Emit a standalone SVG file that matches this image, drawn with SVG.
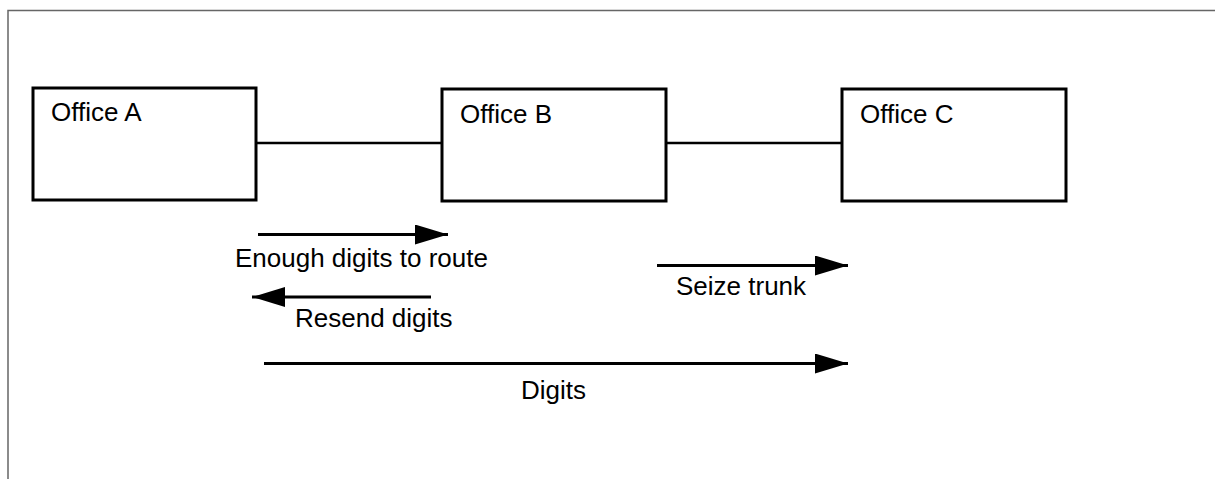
<svg xmlns="http://www.w3.org/2000/svg" width="1215" height="479" viewBox="0 0 1215 479">
  <style>
    .box { fill: #fff; stroke: #000; stroke-width: 3; }
    .link { stroke: #000; stroke-width: 2.5; fill: none; }
    .arrow { stroke: #000; stroke-width: 3; fill: none; }
    .lbl { font-family: "Liberation Sans", Arial, sans-serif; font-size: 26px; fill: #000; }
    .frame { stroke: #666; stroke-width: 1.5; fill: none; }
  </style>
  <defs>
    <marker id="head" markerUnits="userSpaceOnUse" markerWidth="34" markerHeight="20" refX="33" refY="10" orient="auto" viewBox="0 0 34 20">
      <path d="M0,0 L33,10 L0,20 Z" fill="#000"/>
    </marker>
  </defs>
  <rect width="1215" height="479" fill="#fff"/>
  <path class="frame" d="M8,479 L8,10.5 L1215,10.5"/>
  <g id="connectors">
    <line class="link" x1="256" y1="143" x2="442" y2="143"/>
    <line class="link" x1="666" y1="143" x2="842" y2="143"/>
    <line class="arrow" x1="258" y1="234.5" x2="448" y2="234.5" marker-end="url(#head)"/>
    <line class="arrow" x1="431" y1="297" x2="252" y2="297" marker-end="url(#head)"/>
    <line class="arrow" x1="657" y1="265.5" x2="848" y2="265.5" marker-end="url(#head)"/>
    <line class="arrow" x1="264" y1="363.5" x2="848" y2="363.5" marker-end="url(#head)"/>
    <text class="lbl" x="235" y="267">Enough digits to route</text>
    <text class="lbl" x="295" y="327">Resend digits</text>
    <text class="lbl" x="676" y="295">Seize trunk</text>
    <text class="lbl" x="521" y="399">Digits</text>
  </g>
  <g id="officeA">
    <rect class="box" x="33" y="88" width="223" height="112"/>
    <text class="lbl" x="51" y="121">Office A</text>
  </g>
  <g id="officeB">
    <rect class="box" x="442" y="89" width="224" height="112"/>
    <text class="lbl" x="460" y="123">Office B</text>
  </g>
  <g id="officeC">
    <rect class="box" x="842" y="89" width="224" height="112"/>
    <text class="lbl" x="860" y="123">Office C</text>
  </g>
</svg>
